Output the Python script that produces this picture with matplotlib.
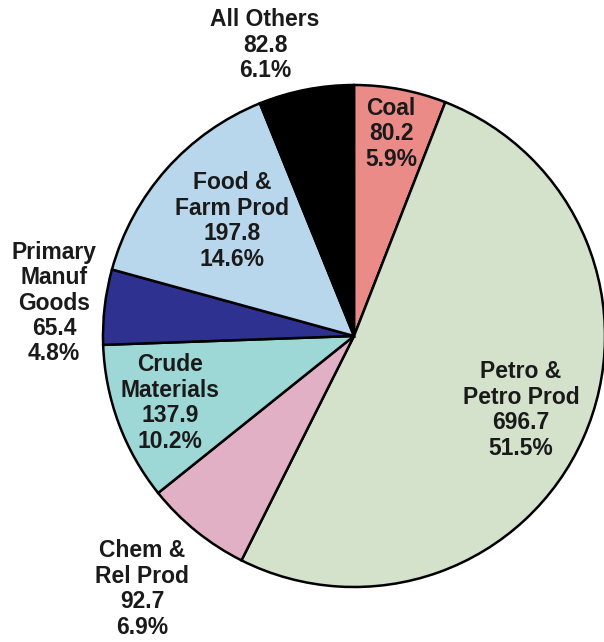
import matplotlib
matplotlib.use("Agg")
import matplotlib.pyplot as plt

# commodity tonnage shares
names = ["Coal", "Petro &\nPetro Prod", "Chem &\nRel Prod", "Crude\nMaterials",
         "Primary\nManuf\nGoods", "Food &\nFarm Prod", "All Others"]
values = [80.2, 696.7, 92.7, 137.9, 65.4, 197.8, 82.8]
pcts = ["5.9%", "51.5%", "6.9%", "10.2%", "4.8%", "14.6%", "6.1%"]
colors = ["#EA8B87", "#D4E2CC", "#E2B0C4", "#9DD8D6", "#2E3190", "#B8D7EC", "#000000"]

# label anchor positions in pixel space (x, y from top)
label_pos = [(391, 134), (521, 410), (142, 589), (170, 403), (54, 303), (232, 221), (265, 45)]

W, H = 604, 642
fig = plt.figure(figsize=(W / 100, H / 100), dpi=100)
ax = fig.add_axes([0, 0, 1, 1])

cx, cy, r = 354, 336, 251
ax.pie(values, colors=colors, startangle=90, counterclock=False,
       center=(cx, H - cy), radius=r, frame=True,
       wedgeprops=dict(edgecolor="black", linewidth=1.8))
ax.set_xlim(0, W)
ax.set_ylim(0, H)
ax.set_aspect("equal")
ax.axis("off")

for name, v, p, (x, y) in zip(names, values, pcts, label_pos):
    ax.text(x, H - y, f"{name}\n{v:.1f}\n{p}", ha="center", va="center",
            fontsize=16.5, family="Liberation Sans", fontweight="bold",
            color="#1a1a1a", linespacing=1.13)

fig.savefig("out.png", dpi=100)
